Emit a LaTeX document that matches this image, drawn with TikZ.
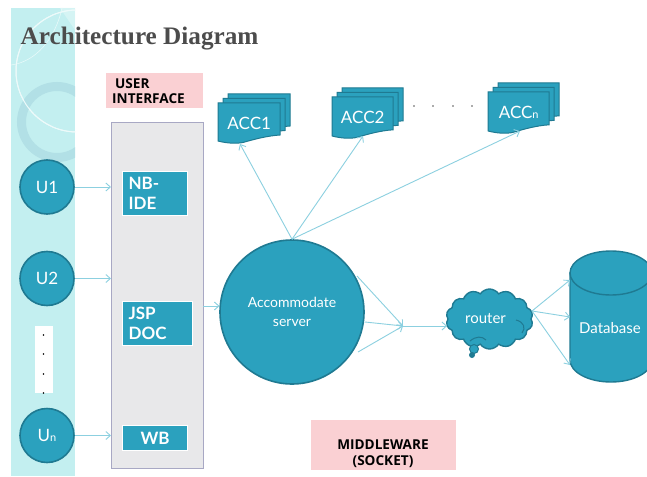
\documentclass[tikz,border=0pt]{standalone}
\usepackage{fontspec}
\setmainfont{Lato}
\newfontfamily\titlefont{Liberation Serif}
\newfontfamily\pinkfont{Open Sans}
\usetikzlibrary{arrows.meta,shapes.symbols,shapes.geometric,calc}
\definecolor{tealfill}{HTML}{2BA1BE}
\definecolor{tealedge}{HTML}{1F7A92}
\definecolor{linkblue}{HTML}{8CD0E0}
\definecolor{sidebar}{HTML}{C3EFF0}
\definecolor{pinkbox}{HTML}{FAD0D3}
\definecolor{panelfill}{HTML}{E8E8EA}
\definecolor{paneledge}{HTML}{A8A8C4}
\definecolor{ringcol}{HTML}{B2E0E6}
\newcommand{\fs}[1]{\fontsize{#1}{#1}\selectfont}
\newcommand{\docshape}[4]{% x y w h
  \path[docbody] ({#1},{#2}) -- ({#1+#3},{#2}) -- ({#1+#3},{#2+0.8*#4})
    .. controls ({#1+0.8*#3},{#2+0.82*#4}) and ({#1+0.6*#3},{#2+0.9*#4}) .. ({#1+0.42*#3},{#2+0.98*#4})
    .. controls ({#1+0.3*#3},{#2+1.03*#4}) and ({#1+0.12*#3},{#2+1.0*#4}) .. ({#1},{#2+0.95*#4}) -- cycle;}
\newcommand{\docstack}[4]{%
  \docshape{#1+10}{#2-9}{#3}{#4}
  \docshape{#1+5}{#2-4.5}{#3}{#4}
  \docshape{#1}{#2}{#3}{#4}}
\tikzset{
  x=1pt,y=-1pt,
  docbody/.style={fill=tealfill,draw=tealedge,line width=1pt},
  user/.style={circle,fill=tealfill,draw=tealedge,line width=1.6pt,text=white,minimum size=54pt,inner sep=0pt,font=\fs{17}},
  module/.style={rectangle,fill=tealfill,draw=white,line width=1.2pt,text=white,inner sep=0pt,font=\bfseries\fs{17},align=left,anchor=north west},
  pinkcard/.style={rectangle,fill=pinkbox,inner sep=0pt,anchor=north west},
  pinktext/.style={font=\pinkfont\bfseries\fs{13.6},inner sep=0pt,text=black},
  doclabel/.style={text=white,font=\fs{17},inner sep=0pt,minimum height=40pt},
  link/.style={draw=linkblue,line width=0.9pt,-{Straight Barb[length=4.5pt,width=8pt]}},
}
\begin{document}
\begin{tikzpicture}
\useasboundingbox (0,0) rectangle (647,476);
\fill[white] (0,0) rectangle (647,476);
% sidebar
\fill[sidebar] (11,8) rectangle (75,476);
\begin{scope}
\clip (11,8) rectangle (75,476);
\fill[white!60!sidebar,opacity=.5] (75,8) -- (60,8) -- (75,30) -- cycle;
\draw[white!75!sidebar,line width=1pt] (77,71) circle (61);
\draw[white!60!sidebar,line width=.6pt] (11,65) .. controls (35,62) and (55,40) .. (62,8);
\draw[ringcol,line width=9pt] (57,122) circle (35.5);
\draw[white!70!sidebar,line width=1pt] (77,71) circle (61);
\end{scope}
% title
\node[anchor=base west,inner sep=0pt,font=\titlefont\bfseries\fs{25.2},text=black!70] (title) at (20.5,45) {Architecture Diagram};
% interface panel
\node[rectangle,draw=paneledge,fill=panelfill,line width=1.2pt,minimum width=92pt,minimum height=346.5pt,inner sep=0pt,anchor=north west] (panel) at (111,121.5) {};
\node[pinkcard,minimum width=97pt,minimum height=35pt] (uicard) at (106,73) {};
\node[pinktext,anchor=base west] (uitext1) at (115,89) {USER};
\node[pinktext,anchor=base west] (uitext2) at (112,104) {INTERFACE};
% modules
\node[module,minimum width=65pt,minimum height=44pt,text width=53pt,inner xsep=6pt] (nbide) at (122,171) {NB-\\[3pt]IDE};
\node[module,minimum width=70pt,minimum height=44pt,text width=58pt,inner xsep=6pt] (jsp) at (122,301) {JSP\\[3pt]DOC};
\node[module,minimum width=65pt,minimum height=25pt,align=center] (wb) at (122,425) {WB};
% users
\node[user] (u1) at (47,187) {U1};
\node[user] (u2) at (47,278.5) {U2};
\node[user] (un) at (47,435.5) {U{\fs{11}n}};
\node[rectangle,fill=white,minimum width=18pt,minimum height=67pt,inner sep=0pt,anchor=north west] (gap) at (35,326) {};
\foreach \yy in {335,354,374,393}
  \fill[black] (43.5,\yy) circle (0.9);
% user links
\draw[link] (u1.east) -- (u1.east -| panel.west);
\draw[link] (u2.east) -- (u2.east -| panel.west);
\draw[link] (un.east) -- (un.east -| panel.west);
% server
\node[circle,fill=tealfill,draw=tealedge,line width=1.6pt,minimum size=144pt,inner sep=0pt,text=white,align=center,font=\fs{14}] (server) at (292,312) {Accommodate\\[5pt]server};
\coordinate (panelout) at (203,306);
\coordinate (serverin) at (219.5,306);
\draw[link] (panelout) -- (serverin);
% account documents
\docstack{218}{103}{62}{40}
\docstack{332}{97}{61}{41}
\docstack{488}{92}{61}{41}
\node[doclabel,text width=62pt,align=center,anchor=north west] (acc1) at (218,103) {ACC1};
\node[doclabel,text width=61pt,align=center,anchor=north west] (acc2) at (332,97) {ACC2};
\node[doclabel,text width=61pt,align=center,anchor=north west] (accn) at (488,92) {ACC{\fs{11}n}};
\foreach \xx in {414,433,453,472}
  \fill[black!65] (\xx,106) circle (0.8);
\coordinate (t1) at (240,144);
\coordinate (t2) at (363,136);
\coordinate (tn) at (520,131);
\draw[link] (server.north) -- (t1);
\draw[link] (server.north) -- (t2);
\draw[link] (server.north) -- (tn);
% router
\node[cloud,cloud puffs=14,cloud puff arc=110,aspect=1.45,fill=tealfill,draw=tealedge,line width=1.4pt,minimum width=87pt,minimum height=60pt,inner sep=0pt,text=white,font=\fs{15}] (router) at (489.5,319) {\hspace*{-8pt}router};
\fill[tealfill,draw=tealedge,line width=1pt] (474,349) circle (4.5);
\fill[tealedge] (472,355) circle (3);
\draw[tealedge,line width=1pt] (516,320) .. controls (524,322) and (526,328) .. (522,333);
\draw[tealedge,line width=1pt] (470,341) .. controls (476,336) and (482,336) .. (486,340);
% database
\path[fill=tealfill,draw=tealedge,line width=1.4pt] (570,273) -- (570,360) arc[start angle=180,end angle=0,x radius=41,y radius=22] -- (652,273) -- cycle;
\path[fill=tealfill,draw=tealedge,line width=1.4pt] (611,273) ellipse[x radius=41,y radius=22];
\node[inner sep=0pt,text=white,font=\fs{15}] (db) at (610,328) {Database};
% server to router
\coordinate (hub) at (403,326);
\coordinate (s1) at (357,276);
\coordinate (s2) at (365,322);
\coordinate (s3) at (358,352);
\draw[link] (s1) -- (hub);
\draw[link] (s2) -- (hub);
\draw[link] (s3) -- (hub);
\draw[link] (hub) -- (router.west |- hub);
% router to database
\coordinate (rout) at (532,311);
\coordinate (d1) at (570,280);
\coordinate (d2) at (570,317);
\coordinate (d3) at (570,365);
\draw[link] (rout) -- (d1);
\draw[link] (rout) -- (d2);
\draw[link] (rout) -- (d3);
% middleware card
\node[pinkcard,minimum width=145pt,minimum height=50pt] (mw) at (311,420) {};
\node[pinktext,anchor=base] (mwtext1) at (383,449) {MIDDLEWARE};
\node[pinktext,anchor=base] (mwtext2) at (383,465) {(SOCKET)};
\end{tikzpicture}
\end{document}
